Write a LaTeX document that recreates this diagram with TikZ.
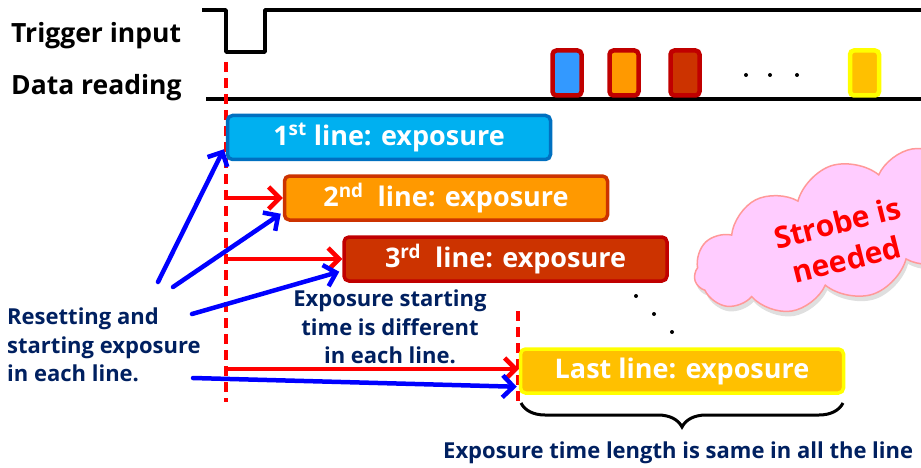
\documentclass[tikz,border=0pt]{standalone}
\usepackage{fontspec}
\setmainfont{Open Sans}
\usetikzlibrary{arrows.meta,shapes.symbols,shadows,decorations.pathreplacing}
\definecolor{navy}{HTML}{002060}
\definecolor{skyfill}{HTML}{00B0F0}
\definecolor{skyline}{HTML}{0070C0}
\definecolor{orfill}{HTML}{FF9900}
\definecolor{rust}{HTML}{CC3300}
\definecolor{darkred}{HTML}{C00000}
\definecolor{goldfill}{HTML}{FFC000}
\definecolor{pureyellow}{HTML}{FFFF00}
\definecolor{blockblue}{HTML}{3399FF}
\definecolor{cloudfill}{HTML}{FFCCFF}
\definecolor{cloudline}{HTML}{FF9999}
\tikzset{
  fsz/.style={font=\bfseries\fontsize{#1}{#1}\selectfont},
  rowlabel/.style={fsz=26.5, anchor=west, inner sep=0},
  expbox/.style={rounded corners=5pt, line width=3.5pt, text=white,
    font=\bfseries\fontsize{27}{30}\selectfont, inner sep=0,
    minimum width=323pt, minimum height=44pt},
  readblock/.style={rounded corners=4pt, line width=4.5pt, inner sep=0,
    minimum width=29pt, minimum height=45pt},
  note/.style={text=navy, inner sep=0,
    font=\bfseries\fontsize{22}{28.5}\selectfont},
  signal/.style={line width=3.5pt, line join=round},
  marker/.style={red, line width=3.5pt, dash pattern=on 10pt off 6pt},
  redarrow/.style={red, line width=4.5pt,
    -{Straight Barb[length=11pt,width=22pt,line width=4.5pt]}},
  bluearrow/.style={blue, line width=4.5pt, line cap=round,
    -{Straight Barb[length=11pt,width=22pt,line width=4.5pt]}},
  dot/.style={circle, fill=black, inner sep=0, minimum size=4pt}
}
\begin{document}
\begin{tikzpicture}[x=1pt, y=-1pt]
\useasboundingbox (0,0) rectangle (921,468);
\clip (0,0) rectangle (921,468);

% signal traces
\node[rowlabel] (trig) at (11,36) {Trigger input};
\node[rowlabel] (read) at (11,88) {Data reading};
\coordinate (t0) at (202,10);
\coordinate (t1) at (226,10);
\coordinate (t2) at (226,52);
\coordinate (t3) at (265,52);
\coordinate (t4) at (265,10);
\coordinate (t5) at (925,10);
\draw[signal] (t0) -- (t1) -- (t2) -- (t3) -- (t4) -- (t5);
\coordinate (r0) at (206,99);
\coordinate (r1) at (925,99);
\draw[signal] (r0) -- (r1);

% read-out blocks
\node[readblock, draw=darkred, fill=blockblue] (k1) at (567,73) {};
\node[readblock, draw=darkred, fill=orfill] (k2) at (624,73) {};
\node[readblock, draw=darkred, fill=rust] (k3) at (685,73) {};
\node[dot] (kd1) at (746,75) {};
\node[dot] (kd2) at (770,75) {};
\node[dot] (kd3) at (797,75) {};
\node[readblock, draw=pureyellow, fill=goldfill] (kn) at (864.5,73) {};

% start markers
\coordinate (m0) at (226,62);
\coordinate (m1) at (226,402);
\draw[marker] (m0) -- (m1);
\coordinate (n0) at (518,311);
\coordinate (n1) at (518,402);
\draw[marker] (n0) -- (n1);

% exposure bars
\node[expbox, draw=skyline, fill=skyfill] (e1) at (389,137.5)
  {1\textsuperscript{st} line: exposure};
\node[expbox, draw=rust, fill=orfill] (e2) at (446,198)
  {2\textsuperscript{nd}\ \ line: exposure};
\node[expbox, draw=darkred, fill=rust] (e3) at (505.5,259)
  {3\textsuperscript{rd}\ \ line: exposure};
\node[expbox, draw=pureyellow, fill=goldfill] (en) at (682,371)
  {Last line: exposure};

\node[dot] (v1) at (636,296) {};
\node[dot] (v2) at (654,314) {};
\node[dot] (v3) at (672,332) {};

% delays from the trigger
\coordinate (s2) at (226,198);
\coordinate (s3) at (226,259);
\coordinate (sn) at (226,369);
\draw[redarrow] (s2) -- (e2.west);
\draw[redarrow] (s3) -- (e3.west);
\draw[redarrow] (sn) -- ([shift={(0,-2)}]en.west);

% notes
\node[note, anchor=west, align=left] (reset) at (7,345)
  {Resetting and\\starting exposure\\in each line.};
\node[note, align=center] (diff) at (390,327)
  {Exposure starting\\time is different\\in each line.};

\coordinate (b1) at (158,282);
\coordinate (b2) at (173,287);
\coordinate (b3) at (192,314);
\coordinate (b4) at (193,378);
\draw[bluearrow] (b1) -- ([shift={(-2,-12)}]e1.south west);
\draw[bluearrow] (b2) -- ([shift={(-2,-8)}]e2.south west);
\draw[bluearrow] (b3) -- ([shift={(-3,-11)}]e3.south west);
\draw[bluearrow] (b4) -- ([shift={(-2,-8)}]en.south west);

% equal exposure length
\coordinate (g0) at (521,403);
\coordinate (g1) at (843,403);
\draw[line width=3pt, decorate,
  decoration={brace, mirror, amplitude=24pt, aspect=0.5}] (g0) -- (g1);
\node[note, anchor=west] (same) at (443,453)
  {Exposure time length is same in all the line};

% strobe cloud
\node[cloud, cloud puffs=12, cloud puff arc=115, aspect=2.4,
  draw=cloudline, line width=1.5pt, fill=cloudfill,
  minimum width=330pt, minimum height=135pt, rotate=18,
  drop shadow={opacity=0.25, shadow xshift=2pt, shadow yshift=-5pt}]
  (strobe) at (852,230) {};
\node[text=red, font=\bfseries\fontsize{30}{38}\selectfont, align=center,
  rotate=14, inner sep=0] (strobetxt) at (842,241) {Strobe is\\needed};
\end{tikzpicture}
\end{document}
